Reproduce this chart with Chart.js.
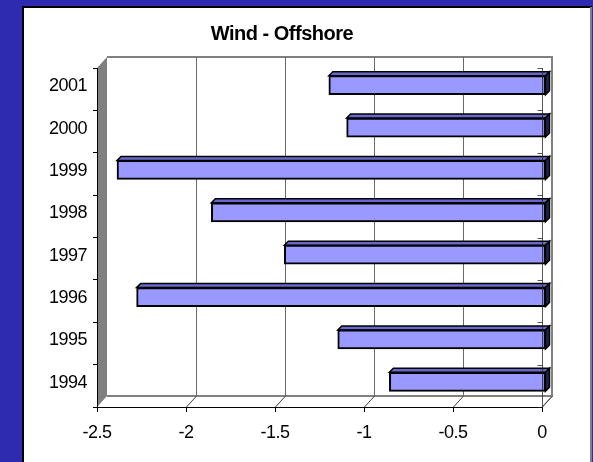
<!DOCTYPE html>
<html>
<head>
<meta charset="utf-8">
<script src="https://cdn.jsdelivr.net/npm/chart.js@4"></script>
<style>
  html, body { margin: 0; padding: 0; background: #2e2bb0; }
  #wrap { width: 593px; height: 462px; }
</style>
</head>
<body>
<div id="wrap"><canvas id="offshoreChart" width="593" height="462"></canvas></div>
<script>
const years = ["2001", "2000", "1999", "1998", "1997", "1996", "1995", "1994"];
const offshore = [-1.22, -1.12, -2.41, -1.88, -1.47, -2.30, -1.17, -0.88];
const xTicks = [-2.5, -2, -1.5, -1, -0.5, 0];

document.addEventListener("DOMContentLoaded", () => {
  const canvas = document.getElementById("offshoreChart");

  // depth of the back wall and of the bars
  const DX = 10, DY = -11;
  const BD = 4;

  const wallsPlugin = {
    id: "walls",
    beforeDraw(chart) {
      const ctx = chart.ctx;
      const a = chart.chartArea;
      const xs = chart.scales.x;
      ctx.save();
      ctx.fillStyle = "#2e2bb0";
      ctx.fillRect(0, 0, chart.width, chart.height);
      ctx.fillStyle = "#fff";
      ctx.fillRect(22, 6, 570, 456);
      ctx.strokeStyle = "#000";
      ctx.lineWidth = 2;
      ctx.beginPath();
      ctx.moveTo(23, 462); ctx.lineTo(23, 7); ctx.lineTo(592, 7);
      ctx.stroke();
      ctx.strokeStyle = "#808080";
      ctx.beginPath();
      ctx.moveTo(591, 7); ctx.lineTo(591, 462);
      ctx.stroke();

      // left side wall
      ctx.fillStyle = "#808080";
      ctx.beginPath();
      ctx.moveTo(a.left, a.top);
      ctx.lineTo(a.left + DX, a.top + DY);
      ctx.lineTo(a.left + DX, a.bottom + DY);
      ctx.lineTo(a.left, a.bottom);
      ctx.closePath();
      ctx.fill();

      // back wall outline
      ctx.strokeStyle = "#808080";
      ctx.lineWidth = 2;
      ctx.beginPath();
      ctx.moveTo(a.left + DX, a.top + DY);
      ctx.lineTo(a.right + DX, a.top + DY);
      ctx.lineTo(a.right + DX, a.bottom + DY);
      ctx.lineTo(a.left + DX, a.bottom + DY);
      ctx.stroke();
      ctx.lineWidth = 1;
      ctx.beginPath();
      ctx.moveTo(a.right, a.bottom);
      ctx.lineTo(a.right + DX, a.bottom + DY);
      ctx.stroke();

      // gridlines on back wall and floor
      xTicks.forEach((v) => {
        const px = Math.round(xs.getPixelForValue(v)) + 0.5;
        ctx.strokeStyle = "#6a6a6a";
        ctx.lineWidth = 1;
        if (v > xTicks[0] && v < xTicks[xTicks.length - 1]) {
          ctx.beginPath();
          ctx.moveTo(px + DX, a.top + DY);
          ctx.lineTo(px + DX, a.bottom + DY);
          ctx.stroke();
        }
        if (v > xTicks[0]) {
          ctx.strokeStyle = "#404040";
          ctx.beginPath();
          ctx.moveTo(px, a.bottom);
          ctx.lineTo(px + DX, a.bottom + DY);
          ctx.stroke();
        }
      });
      ctx.restore();
      ctx.letterSpacing = "-0.5px";
    },
    beforeDatasetsDraw(chart) {
      const ctx = chart.ctx;
      ctx.save();
      ctx.translate(BD, -BD);
      chart.getDatasetMeta(0).data.forEach((bar) => {
        const p = bar.getProps(["x", "y", "base", "height"], true);
        const xl = Math.min(p.x, p.base), xr = Math.max(p.x, p.base);
        const yt = p.y - p.height / 2, yb = p.y + p.height / 2;
        ctx.lineWidth = 1.5;
        ctx.strokeStyle = "#000";
        ctx.fillStyle = "#6868cc";
        ctx.beginPath();
        ctx.moveTo(xl, yt);
        ctx.lineTo(xl + BD, yt - BD);
        ctx.lineTo(xr + BD, yt - BD);
        ctx.lineTo(xr, yt);
        ctx.closePath();
        ctx.fill();
        ctx.stroke();
        ctx.fillStyle = "#22224d";
        ctx.beginPath();
        ctx.moveTo(xr, yt);
        ctx.lineTo(xr + BD, yt - BD);
        ctx.lineTo(xr + BD, yb - BD);
        ctx.lineTo(xr, yb);
        ctx.closePath();
        ctx.fill();
        ctx.stroke();
      });
    },
    afterDatasetsDraw(chart) {
      const ctx = chart.ctx;
      ctx.restore();
      const a = chart.chartArea;
      const ys = chart.scales.y;
      ctx.save();
      ctx.strokeStyle = "rgba(30,30,30,0.75)";
      ctx.lineWidth = 1;
      const rx = Math.round(a.right) + 0.5;
      ctx.beginPath();
      ctx.moveTo(rx, a.top);
      ctx.lineTo(rx, a.bottom);
      for (let i = 0; i <= years.length; i++) {
        const py = Math.round(ys.getPixelForValue(i - 0.5)) + 0.5;
        ctx.moveTo(rx - 5, py);
        ctx.lineTo(rx, py);
      }
      ctx.stroke();
      ctx.restore();
    },
  };

  new Chart(canvas, {
    type: "bar",
    data: {
      labels: years,
      datasets: [
        {
          label: "Wind - Offshore",
          data: offshore,
          backgroundColor: "#9999ff",
          borderColor: "#000",
          borderWidth: 2,
          borderSkipped: false,
          barThickness: 19,
          clip: false,
        },
      ],
    },
    options: {
      indexAxis: "y",
      responsive: false,
      animation: false,
      events: [],
      layout: {
        padding: { left: 22, right: 51, top: 6, bottom: 0 },
      },
      plugins: {
        legend: { display: false },
        tooltip: { enabled: false },
        title: {
          display: true,
          text: "Wind - Offshore",
          color: "#000",
          font: { family: "'Liberation Sans', Arial, sans-serif", size: 20, weight: "bold" },
          padding: { top: 16, bottom: 22 },
        },
      },
      scales: {
        x: {
          type: "linear",
          min: -2.5,
          max: 0,
          afterFit: (scale) => { scale.height = 55; },
          afterBuildTicks: (scale) => { scale.ticks = xTicks.map((v) => ({ value: v })); },
          grid: { drawOnChartArea: false, drawTicks: true, tickLength: 5, color: "#000" },
          border: { display: true, color: "#000", width: 1 },
          ticks: {
            color: "#000",
            padding: 10,
            maxRotation: 0,
            autoSkip: false,
            font: { family: "'Liberation Sans', Arial, sans-serif", size: 18 },
            callback: (v) => String(v),
          },
        },
        y: {
          afterFit: (scale) => { scale.width = 75; },
          grid: { drawOnChartArea: false, drawTicks: true, tickLength: 4, color: "#000" },
          border: { display: true, color: "#000", width: 1 },
          ticks: {
            color: "#000",
            padding: 6,
            labelOffset: -3,
            font: { family: "'Liberation Sans', Arial, sans-serif", size: 18 },
          },
        },
      },
    },
    plugins: [wallsPlugin],
  });
});
</script>
</body>
</html>
